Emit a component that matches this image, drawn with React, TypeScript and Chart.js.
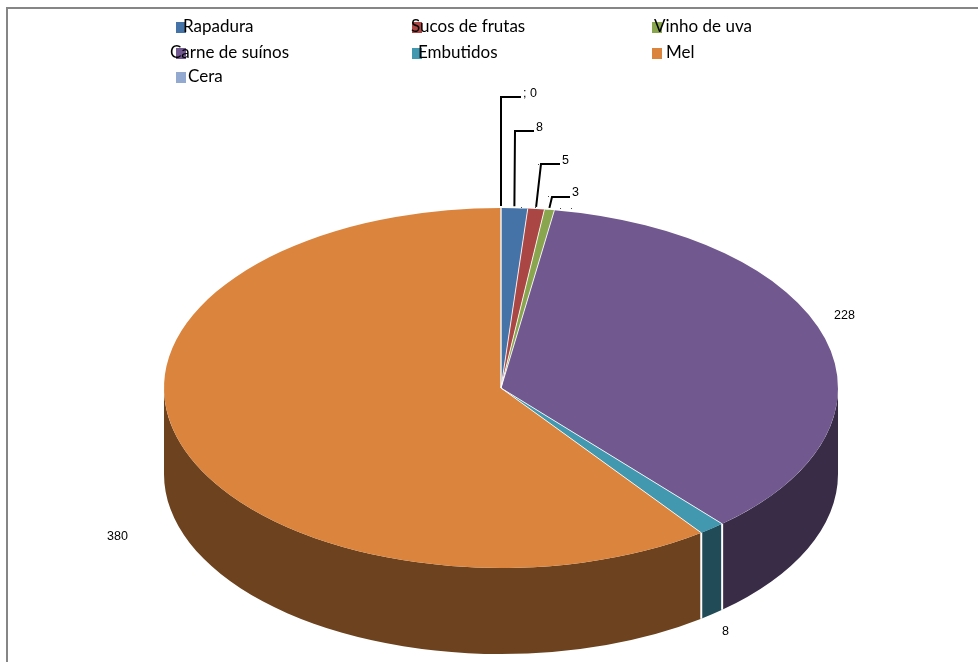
import React, { useEffect, useRef } from "react";
import { Chart, registerables } from "chart.js";

Chart.register(...registerables);

const categories = ["Rapadura", "Sucos de frutas", "Vinho de uva", "Carne de suínos", "Embutidos", "Mel", "Cera"];
const values = [8, 5, 3, 228, 8, 380, 0];
const topColors = ["#4572a7", "#aa4643", "#89a54e", "#71588f", "#4198af", "#db843d", "#93a9cf"];
const wallColors = ["#223953", "#552321", "#445227", "#382c47", "#214c57", "#6d421e", "#495467"];

const CX = 501;
const CY = 388;
const RX = 337;
const RY = 180;
const DEPTH = 86;

const LABEL_FONT = "12.5px 'Liberation Sans', Arial, sans-serif";
const LEGEND_FONT = "17px Lato, sans-serif";

// Legend grid: swatch position plus the text's own start.
const legendRows = [
  { swatchX: 176, y: 27, textX: 183 },
  { swatchX: 412, y: 27, textX: 411 },
  { swatchX: 652, y: 27, textX: 654 },
  { swatchX: 176, y: 53, textX: 170 },
  { swatchX: 412, y: 53, textX: 418 },
  { swatchX: 652, y: 53, textX: 666 },
  { swatchX: 176, y: 77, textX: 188 },
];

// Callouts for the narrow slices, in draw coordinates from rim to text.
const callouts = [
  { slice: 6, elbow: [501, 97], end: [521, 97], text: "; 0", at: [523, 94] },
  { slice: 0, elbow: [515, 131], end: [534, 131], text: "8", at: [536, 128] },
  { slice: 1, elbow: [541, 164], end: [560, 164], text: "5", at: [562, 161] },
  { slice: 2, elbow: [552, 197], end: [570, 197], text: "3", at: [572, 193] },
];

const plainLabels = [
  { slice: 3, at: [834, 316] },
  { slice: 4, at: [722, 632] },
  { slice: 5, at: [107, 537] },
];

const stubDots = [[521, 207], [535, 207], [538, 164], [548, 196], [560, 208], [571, 208]];

const rimPoint = (angle: number, drop = 0) => [CX + RX * Math.cos(angle), CY + RY * Math.sin(angle) + drop];

// Paints the frame and the side wall of the disc under the slices.
const wallPlugin = {
  id: "wall",
  beforeDatasetsDraw(chart: any) {
    const { ctx } = chart;
    ctx.save();
    ctx.fillStyle = "#868686";
    ctx.fillRect(6, 7, 972, 2);
    ctx.fillRect(6, 7, 2, 655);
    const arcs = chart.getDatasetMeta(0).data;
    arcs.forEach((arc: any, i: number) => {
      const a0 = Math.max(arc.startAngle, 0);
      const a1 = Math.min(arc.endAngle, Math.PI);
      if (a1 <= a0) return;
      ctx.beginPath();
      ctx.ellipse(CX, CY, RX, RY, 0, a0, a1);
      ctx.ellipse(CX, CY + DEPTH, RX, RY, 0, a1, a0, true);
      ctx.closePath();
      ctx.fillStyle = wallColors[i];
      ctx.fill();
    });
    ctx.strokeStyle = "#ffffff";
    ctx.lineWidth = 2;
    arcs.forEach((arc: any) => {
      if (arc.startAngle > 0 && arc.startAngle < Math.PI) {
        const [x, y] = rimPoint(arc.startAngle);
        ctx.beginPath();
        ctx.moveTo(x, y);
        ctx.lineTo(x, y + DEPTH);
        ctx.stroke();
      }
    });
    ctx.restore();
  },
  // The library's round arcs are squashed into the tilted ellipse.
  beforeDatasetDraw(chart: any) {
    const { ctx } = chart;
    const arc = chart.getDatasetMeta(0).data[0];
    ctx.save();
    ctx.translate(CX, CY);
    ctx.scale(RX / arc.outerRadius, RY / arc.outerRadius);
    ctx.translate(-arc.x, -arc.y);
  },
  afterDatasetDraw(chart: any) {
    chart.ctx.restore();
  },
};

// Slice separators, callouts, value labels and the legend.
const annotationPlugin = {
  id: "annotation",
  afterDatasetsDraw(chart: any) {
    const { ctx } = chart;
    const arcs = chart.getDatasetMeta(0).data;
    const shown = chart.data.datasets[0].data;
    ctx.save();

    ctx.strokeStyle = "rgba(255,255,255,0.85)";
    ctx.lineWidth = 1;
    arcs.forEach((arc: any) => {
      const [x, y] = rimPoint(arc.startAngle);
      ctx.beginPath();
      ctx.moveTo(CX, CY);
      ctx.lineTo(x, y);
      ctx.stroke();
    });

    ctx.strokeStyle = "#000000";
    ctx.fillStyle = "#000000";
    ctx.font = LABEL_FONT;
    ctx.textBaseline = "middle";
    ctx.textAlign = "left";
    callouts.forEach((c) => {
      const arc = arcs[c.slice];
      const [x, y] = rimPoint((arc.startAngle + arc.endAngle) / 2);
      ctx.lineWidth = 2;
      ctx.beginPath();
      ctx.moveTo(x, y - 2);
      ctx.lineTo(c.elbow[0], c.elbow[1]);
      ctx.lineTo(c.end[0], c.end[1]);
      ctx.stroke();
      ctx.fillText(c.text, c.at[0], c.at[1]);
    });
    plainLabels.forEach((l) => ctx.fillText(String(shown[l.slice]), l.at[0], l.at[1]));
    ctx.fillStyle = "#444444";
    stubDots.forEach(([x, y]) => ctx.fillRect(x, y, 1, 1));

    ctx.font = LEGEND_FONT;
    categories.forEach((name, i) => {
      const row = legendRows[i];
      ctx.fillStyle = topColors[i];
      ctx.fillRect(row.swatchX, row.y - 5, 10, 11);
      ctx.fillStyle = "#000000";
      ctx.fillText(name, row.textX, row.y);
    });
    ctx.restore();
  },
};

export default function App() {
  const ref = useRef<HTMLCanvasElement>(null);
  useEffect(() => {
    document.body.style.margin = "0";
    const chart = new Chart(ref.current!, {
      type: "pie",
      data: {
        labels: categories,
        datasets: [{ data: values, backgroundColor: topColors, borderWidth: 0, clip: false } as any],
      },
      options: {
        responsive: false,
        animation: false,
        plugins: { legend: { display: false }, tooltip: { enabled: false } },
      },
      plugins: [wallPlugin, annotationPlugin],
    });
    return () => chart.destroy();
  }, []);
  return <canvas ref={ref} width={978} height={662} style={{ display: "block" }} />;
}
